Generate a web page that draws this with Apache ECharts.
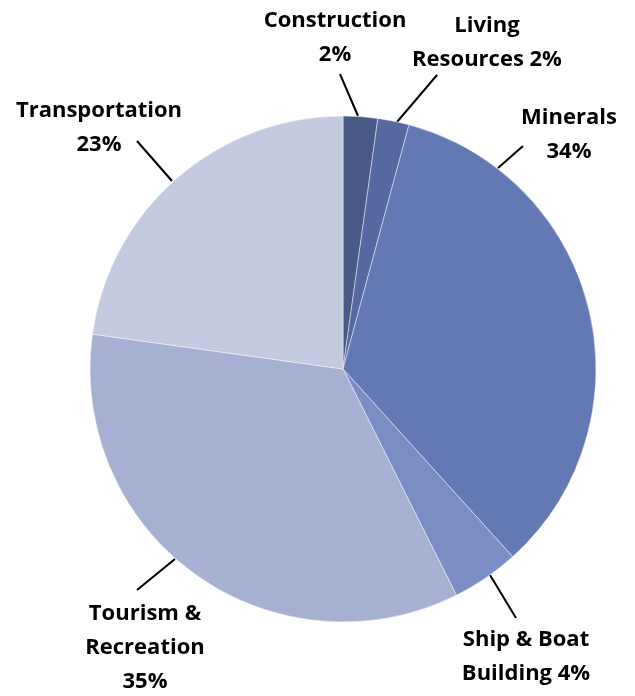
<!DOCTYPE html>
<html>
<head>
<meta charset="utf-8">
<script src="https://cdn.jsdelivr.net/npm/echarts@6/dist/echarts.min.js"></script>
<style>html,body{margin:0;padding:0;background:#fff}#c{width:635px;height:696px}</style>
</head>
<body>
<div id="c"></div>
<script>
var categories = ['Construction', 'Living Resources', 'Minerals', 'Ship & Boat Building', 'Tourism & Recreation', 'Transportation'];
var values = [2.2, 2.0, 34.1, 4.3, 34.6, 22.8];
var labelTexts = ['Construction\n2%', 'Living\nResources 2%', 'Minerals\n34%', 'Ship & Boat\nBuilding 4%', 'Tourism &\nRecreation\n35%', 'Transportation\n23%'];
var colors = ['#4a5a87', '#55689f', '#6279b3', '#7b8ec3', '#a6b0d2', '#c4cadf'];
// label block centres and leader line ends (layout only)
var labelPos = [[335, 38], [487, 43], [569, 135], [526, 657], [145, 648], [99, 128]];
var leaderLines = [
  [[358, 116], [340, 74]],
  [[397, 122], [437, 75]],
  [[498, 168], [523, 146]],
  [[490, 575], [516, 618]],
  [[175, 559], [137, 590]],
  [[172, 181], [137, 141]]
];

var chart = echarts.init(document.getElementById('c'), null, {renderer: 'canvas'});
chart.setOption({
  animation: false,
  series: [{
    type: 'pie',
    center: [343, 369],
    radius: 253,
    startAngle: 90,
    clockwise: true,
    data: categories.map(function (c, i) {
      return {name: c, value: values[i], itemStyle: {color: colors[i]}};
    }),
    itemStyle: {borderColor: 'rgba(255,255,255,0.45)', borderWidth: 1},
    label: {
      show: true,
      position: 'outside',
      formatter: function (p) { return labelTexts[p.dataIndex]; },
      fontFamily: 'Open Sans',
      fontWeight: 'bold',
      fontSize: 22,
      lineHeight: 34,
      color: '#000',
      align: 'center',
      overflow: 'none'
    },
    labelLine: {show: true, length: 30, length2: 0, lineStyle: {color: '#000', width: 2}},
    labelLayout: function (params) {
      var i = params.dataIndex;
      var p = labelPos[i];
      var l = leaderLines[i];
      return {
        x: p[0], y: p[1], align: 'center', verticalAlign: 'middle',
        labelLinePoints: [l[0], [(l[0][0] + l[1][0]) / 2, (l[0][1] + l[1][1]) / 2], l[1]]
      };
    }
  }]
});
</script>
</body>
</html>
